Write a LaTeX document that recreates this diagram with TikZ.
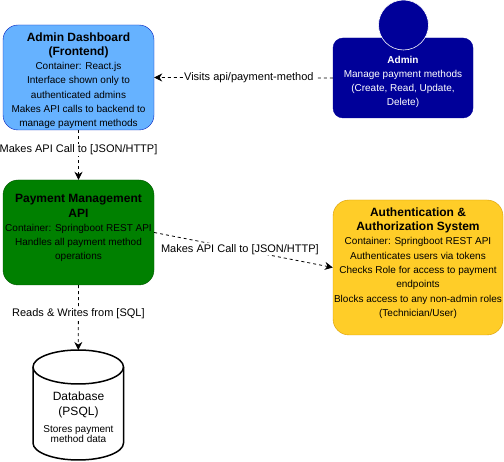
\documentclass[tikz,border=0pt]{standalone}
\usepackage{fontspec}
\setmainfont{Liberation Sans}
\usetikzlibrary{arrows.meta}

\newcommand{\boxtitle}[1]{{\fontsize{12}{15}\selectfont\bfseries #1}}
\tikzset{
  container/.style={draw,rectangle,rounded corners=15pt,align=center,inner sep=0pt,font=\fontsize{10}{14.3}\selectfont},
  apicall/.style={-{Stealth[length=8pt,width=8pt]},dash pattern=on 3pt off 3pt,line width=0.8pt},
  calllabel/.style={fill=white,inner sep=1pt,font=\fontsize{11}{13}\selectfont}
}
\definecolor{dashblue}{HTML}{66B2FF}
\definecolor{dashedge}{HTML}{001DBC}
\definecolor{apigreen}{HTML}{008000}
\definecolor{apiedge}{HTML}{005700}
\definecolor{adminblue}{HTML}{000099}
\definecolor{authyellow}{HTML}{FFCD28}
\definecolor{authedge}{HTML}{D79B00}

\begin{document}
\begin{tikzpicture}[x=1pt,y=-1pt]
  \useasboundingbox (0,0) rectangle (504,462);
  % boxes
  \node[container,fill=dashblue,draw=dashedge,minimum width=151pt,minimum height=105pt] (dashboard) at (78.5,77.5)
    {\rule{0pt}{15pt}\boxtitle{Admin Dashboard}\\\boxtitle{(Frontend)}\\Container: React.js\\Interface shown only to\\authenticated admins\\Makes API calls to backend to\\manage payment methods};
  \node[container,fill=apigreen,draw=apiedge,minimum width=151pt,minimum height=105pt] (paymentapi) at (78.5,232.5)
    {\rule{0pt}{12pt}\boxtitle{Payment Management}\\\boxtitle{API}\\Container: Springboot REST API\\Handles all payment method\\operations\\\mbox{}};
  \node[container,fill=authyellow,draw=authedge,rounded corners=16pt,minimum width=170pt,minimum height=135pt] (authsystem) at (418,267.5)
    {\rule{0pt}{12pt}\boxtitle{Authentication \&}\\\boxtitle{Authorization System}\\Container: Springboot REST API\\Authenticates users via tokens\\Checks Role for access to payment\\endpoints\\Blocks access to any non-admin roles\\(Technician/User)\\\mbox{}};
  % admin person
  \node[container,fill=adminblue,draw=adminblue,rounded corners=10pt,text=white,minimum width=140pt,minimum height=80pt] (admin) at (403,78)
    {\rule{0pt}{15pt}\textbf{Admin}\\Manage payment methods\\(Create, Read, Update,\\Delete)};
  \node[circle,fill=adminblue,draw=white,line width=0.6pt,minimum size=50pt,inner sep=0pt] (adminhead) at (403.5,25) {};
  % database
  \draw[line width=1.5pt,fill=white] (33,367) arc (180:0:45.25pt and 17pt) -- (123.5,443) arc (360:180:45.25pt and 17pt) -- cycle;
  \draw[line width=1.5pt] (33,367) arc (180:360:45.25pt and 17pt);
  \coordinate (dbtop) at (78.25,350);
  \node[align=center,inner sep=0pt,font=\fontsize{12}{15}\selectfont] (dbtitle) at (78.5,404.5) {Database\\(PSQL)};
  \node[align=center,inner sep=0pt,font=\fontsize{10}{10}\selectfont] (dbtext) at (78.5,434.5) {Stores payment\\method data};
  % connectors
  \draw[apicall] (admin.west) -- node[calllabel,pos=0.47] (visitslabel) {Visits api/payment-method} (dashboard.east);
  \draw[apicall] (dashboard.south) -- node[calllabel,pos=0.4] (dashlabel) {Makes API Call to [JSON/HTTP]} (paymentapi.north);
  \draw[apicall] (paymentapi.east) -- node[calllabel,pos=0.48] (authlabel) {Makes API Call to [JSON/HTTP]} (authsystem.west);
  \draw[apicall] (paymentapi.south) -- node[calllabel,pos=0.44] (dblabel) {Reads \& Writes from [SQL]} (dbtop);
\end{tikzpicture}
\end{document}
